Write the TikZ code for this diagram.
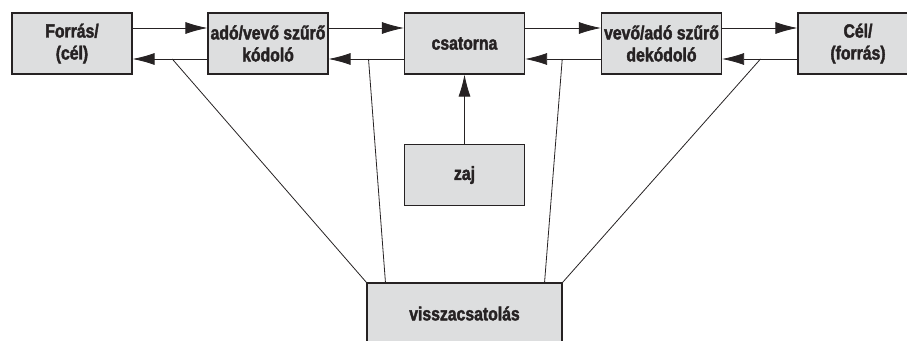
\documentclass[tikz,border=0pt]{standalone}
\usepackage{fontspec}
\setmainfont[FakeStretch=0.83,BoldFeatures={FakeBold=2}]{Liberation Sans}
\usepackage{tikz}
\usetikzlibrary{arrows.meta,calc}
\definecolor{boxgray}{RGB}{221,222,223}
\definecolor{inkgray}{RGB}{38,34,35}
\tikzstyle{block} = [rectangle, draw=inkgray, line width=1.1pt, fill=boxgray,
    minimum width=120pt, minimum height=61pt, align=center, text=inkgray,
    font=\bfseries\fontsize{19}{22}\selectfont, inner sep=0pt]
\tikzstyle{line} = [draw=inkgray, line width=0.8pt, ->]
\tikzstyle{fbline} = [draw=inkgray, line width=0.8pt]

\begin{document}
\begin{tikzpicture}[x=1pt,y=-1pt,node distance=196pt,>={Latex[length=22pt,width=12pt]}]
    \useasboundingbox (0,0) rectangle (907,340);
    % Place nodes
    \node [block] at (72,43.5) (src) {Forrás/\\(cél)};
    \node [block, right of=src] (enc) {adó/vevő szűrő\\kódoló};
    \node [block, right of=enc, node distance=196.5pt] (chan) {csatorna};
    \node [block, right of=chan, node distance=197pt] (dec) {vevő/adó szűrő\\dekódoló};
    \node [block, right of=dec, node distance=196.5pt] (dst) {Cél/\\(forrás)};
    \node [block, below of=chan, node distance=131.5pt] (noise) {zaj};
    \node [block, minimum width=195pt, below of=chan, node distance=270pt] (fb) {visszacsatolás};
    % Draw edges
    \path [line] ([yshift=15.5pt]src.east) -- ([yshift=15.5pt]enc.west);
    \path [line] ([yshift=15.5pt]enc.east) -- ([yshift=15.5pt]chan.west);
    \path [line] ([yshift=15.5pt]chan.east) -- ([yshift=15.5pt]dec.west);
    \path [line] ([yshift=15.5pt]dec.east) -- ([yshift=15.5pt]dst.west);
    \path [line] ([yshift=-15.5pt]enc.west) -- coordinate[pos=0.47] (fbA) ([yshift=-15.5pt]src.east);
    \path [line] ([yshift=-15.5pt]chan.west) -- coordinate[pos=0.47] (fbB) ([yshift=-15.5pt]enc.east);
    \path [line] ([yshift=-15.5pt]dec.west) -- coordinate[pos=0.51] (fbC) ([yshift=-15.5pt]chan.east);
    \path [line] ([yshift=-15.5pt]dst.west) -- coordinate[pos=0.49] (fbD) ([yshift=-15.5pt]dec.east);
    \path [line] (noise) -- (chan);
    % Feedback
    \path [fbline] (fbA) -- (fb.north west);
    \path [fbline] (fbB) -- ([xshift=19pt]fb.north west);
    \path [fbline] (fbC) -- ([xshift=-18pt]fb.north east);
    \path [fbline] (fbD) -- (fb.north east);
\end{tikzpicture}
\end{document}
